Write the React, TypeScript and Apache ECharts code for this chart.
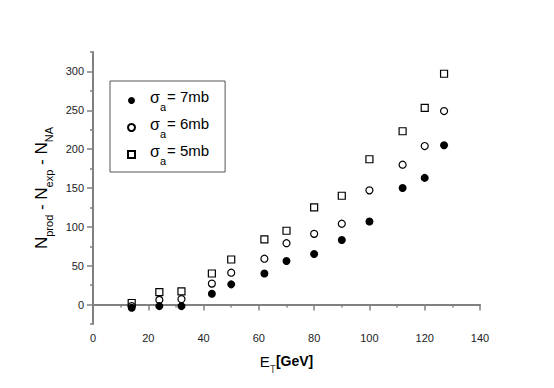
import React, { useEffect, useRef } from "react";
import * as echarts from "echarts";

const xValues = [14, 24, 32, 43, 50, 62, 70, 80, 90, 100, 112, 120, 127];
const sigma7 = [-4, -2, -2, 14, 26, 40, 56, 65, 83, 107, 150, 163, 205];
const sigma6 = [-2, 6, 7, 27, 41, 59, 79, 91, 104, 147, 180, 204, 249];
const sigma5 = [2, 16, 17, 40, 58, 84, 95, 125, 140, 187, 223, 253, 297];
const seriesNames = ["7mb", "6mb", "5mb"];
const yMajorTicks = [0, 50, 100, 150, 200, 250, 300];
const yMinorTicks = [-25, 25, 75, 125, 175, 225, 275, 325];

const FONT = "'Liberation Sans', Arial, Helvetica, sans-serif";
const AXIS_COLOR = "#808080";

export default function App() {
  const ref = useRef<HTMLDivElement>(null);
  useEffect(() => {
    document.body.style.margin = "0";
    const chart = echarts.init(ref.current!, null, { renderer: "svg" });
    const pair = (ys: number[]) => xValues.map((x, i) => [x, ys[i]]);
    chart.setOption({
      animation: false,
      backgroundColor: "#fff",
      textStyle: { fontFamily: FONT },
      grid: { left: 93, right: 74, top: 52, bottom: 64 },
      legend: {
        left: 110,
        top: 81,
        orient: "vertical",
        width: 112,
        padding: [8, 16, 6, 17],
        itemGap: 4,
        itemWidth: 7,
        itemHeight: 7,
        borderColor: "#555",
        borderWidth: 1,
        data: [
          { name: seriesNames[0], icon: "circle" },
          { name: seriesNames[1], icon: "circle" },
          { name: seriesNames[2], icon: "rect" },
        ],
        formatter: (n: string) => `{s|σ}{sub|a}{t|= ${n}}`,
        textStyle: {
          color: "#000",
          fontFamily: FONT,
          padding: [0, 0, 0, 10],
          rich: {
            s: { fontSize: 16, fontFamily: FONT, color: "#000", lineHeight: 23, verticalAlign: "top" },
            sub: { fontSize: 11, fontFamily: FONT, color: "#000", lineHeight: 23, verticalAlign: "bottom", padding: [0, 1, 0, 0] },
            t: { fontSize: 15, fontFamily: FONT, color: "#000", lineHeight: 23, verticalAlign: "top" },
          },
        },
      },
      xAxis: {
        type: "value",
        min: 0,
        max: 140,
        interval: 20,
        axisLine: { lineStyle: { color: AXIS_COLOR, width: 2 } },
        axisTick: { length: 6, lineStyle: { color: AXIS_COLOR, width: 1.5 } },
        minorTick: { show: true, splitNumber: 2, length: 3, lineStyle: { color: AXIS_COLOR, width: 1.5 } },
        splitLine: { show: false },
        axisLabel: { color: "#222", fontSize: 11, margin: 8, fontFamily: FONT },
        name: "{e|E}{sub|T}{b|[GeV]}",
        nameLocation: "middle",
        nameGap: 30,
        nameTextStyle: {
          rich: {
            e: { fontSize: 15, color: "#000", fontFamily: FONT, verticalAlign: "top", lineHeight: 20 },
            b: { fontSize: 14, fontWeight: "bold", color: "#000", fontFamily: FONT, verticalAlign: "top", lineHeight: 20 },
            sub: { fontSize: 10, color: "#444", fontFamily: FONT, verticalAlign: "bottom", lineHeight: 20 },
          },
        },
      },
      yAxis: [
        {
          type: "value",
          min: -25,
          max: 325,
          interval: 25,
          axisLine: { lineStyle: { color: AXIS_COLOR, width: 2 } },
          axisTick: { length: 6, customValues: yMajorTicks, lineStyle: { color: AXIS_COLOR, width: 1.5 } },
          axisLabel: { customValues: yMajorTicks, color: "#222", fontSize: 11, margin: 9, fontFamily: FONT },
          splitLine: { show: false },
          name: "{n|N}{sub|prod}{n| - N}{sub|exp}{n| - N}{sub|NA}",
          nameLocation: "middle",
          nameRotate: 90,
          nameGap: 38,
          nameTextStyle: {
            rich: {
              n: { fontSize: 17, color: "#000", fontFamily: FONT, verticalAlign: "top", lineHeight: 22 },
              sub: { fontSize: 11, color: "#000", fontFamily: FONT, verticalAlign: "bottom", lineHeight: 22 },
            },
          },
        },
        {
          type: "value",
          min: -25,
          max: 325,
          interval: 25,
          position: "left",
          axisLine: { show: false },
          axisTick: { length: 3, customValues: yMinorTicks, lineStyle: { color: AXIS_COLOR, width: 1.5 } },
          axisLabel: { show: false },
          splitLine: { show: false },
        },
      ],
      series: [
        {
          name: seriesNames[2],
          type: "scatter",
          symbol: "rect",
          symbolSize: 7,
          z: 2,
          data: pair(sigma5),
          itemStyle: { color: "#fff", borderColor: "#000", borderWidth: 1.2, opacity: 1 },
        },
        {
          name: seriesNames[1],
          type: "scatter",
          symbol: "circle",
          symbolSize: 7,
          z: 3,
          data: pair(sigma6),
          itemStyle: { color: "#fff", borderColor: "#000", borderWidth: 1.2, opacity: 1 },
        },
        {
          name: seriesNames[0],
          type: "scatter",
          symbol: "circle",
          symbolSize: 8,
          z: 4,
          data: pair(sigma7),
          itemStyle: { color: "#000", borderColor: "#000", borderWidth: 0, opacity: 1 },
        },
      ],
    });
    return () => chart.dispose();
  }, []);
  return <div ref={ref} style={{ width: 554, height: 388 }} />;
}
